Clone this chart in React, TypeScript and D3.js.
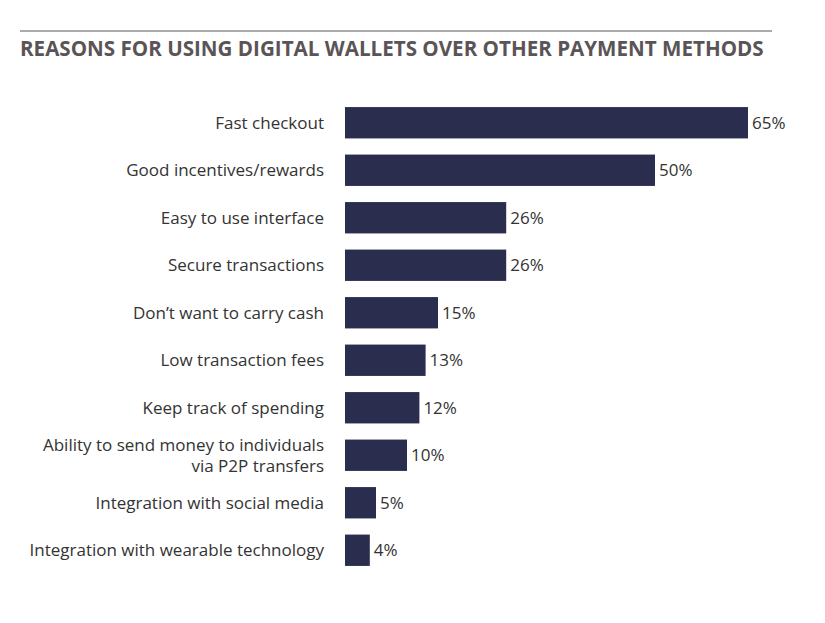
import React from 'react';
import * as d3 from 'd3';

const reasons = [
  'Fast checkout',
  'Good incentives/rewards',
  'Easy to use interface',
  'Secure transactions',
  'Don\u2019t want to carry cash',
  'Low transaction fees',
  'Keep track of spending',
  'Ability to send money to individuals|via P2P transfers',
  'Integration with social media',
  'Integration with wearable technology',
];
const shares = [65, 50, 26, 26, 15, 13, 12, 10, 5, 4];

const W = 825;
const H = 623;
const barLeft = 345;
const FONT = '"Open Sans", sans-serif';

export default function App() {
  const x = d3.scaleLinear().domain([0, 65]).range([barLeft, 748]);
  const y = d3.scaleBand<number>()
    .domain(d3.range(reasons.length))
    .range([99, 574])
    .paddingInner(0.34)
    .paddingOuter(0.17);

  return (
    <svg width={W} height={H} style={{ position: 'absolute', left: 0, top: 0 }}>
      <rect width={W} height={H} fill="#fff" />
      <line x1={20} x2={772} y1={31} y2={31} stroke="#5b5456" strokeWidth={1.2} />
      <text x={20} y={56} fontFamily={FONT} fontWeight={700} fontSize={20.6} fill="#5b5456">
        REASONS FOR USING DIGITAL WALLETS OVER OTHER PAYMENT METHODS
      </text>
      {reasons.map((r, i) => {
        const lines = r.split('|');
        const cy = (y(i) as number) + y.bandwidth() / 2;
        const lh = 21;
        return (
          <g key={i}>
            <text
              x={324}
              textAnchor="end"
              fontFamily={FONT}
              fontSize={17}
              fill="#333"
            >
              {lines.map((l, j) => (
                <tspan key={j} x={324} y={cy + 6 + (j - (lines.length - 1) / 2) * lh}>{l}</tspan>
              ))}
            </text>
            <rect
              x={x(0)}
              y={y(i)}
              width={x(shares[i]) - x(0)}
              height={y.bandwidth()}
              fill="#2a2d4e"
            />
            <text
              x={x(shares[i]) + 4}
              y={cy + 6}
              fontFamily={FONT}
              fontSize={17}
              fill="#333"
            >
              {shares[i]}%
            </text>
          </g>
        );
      })}
    </svg>
  );
}
